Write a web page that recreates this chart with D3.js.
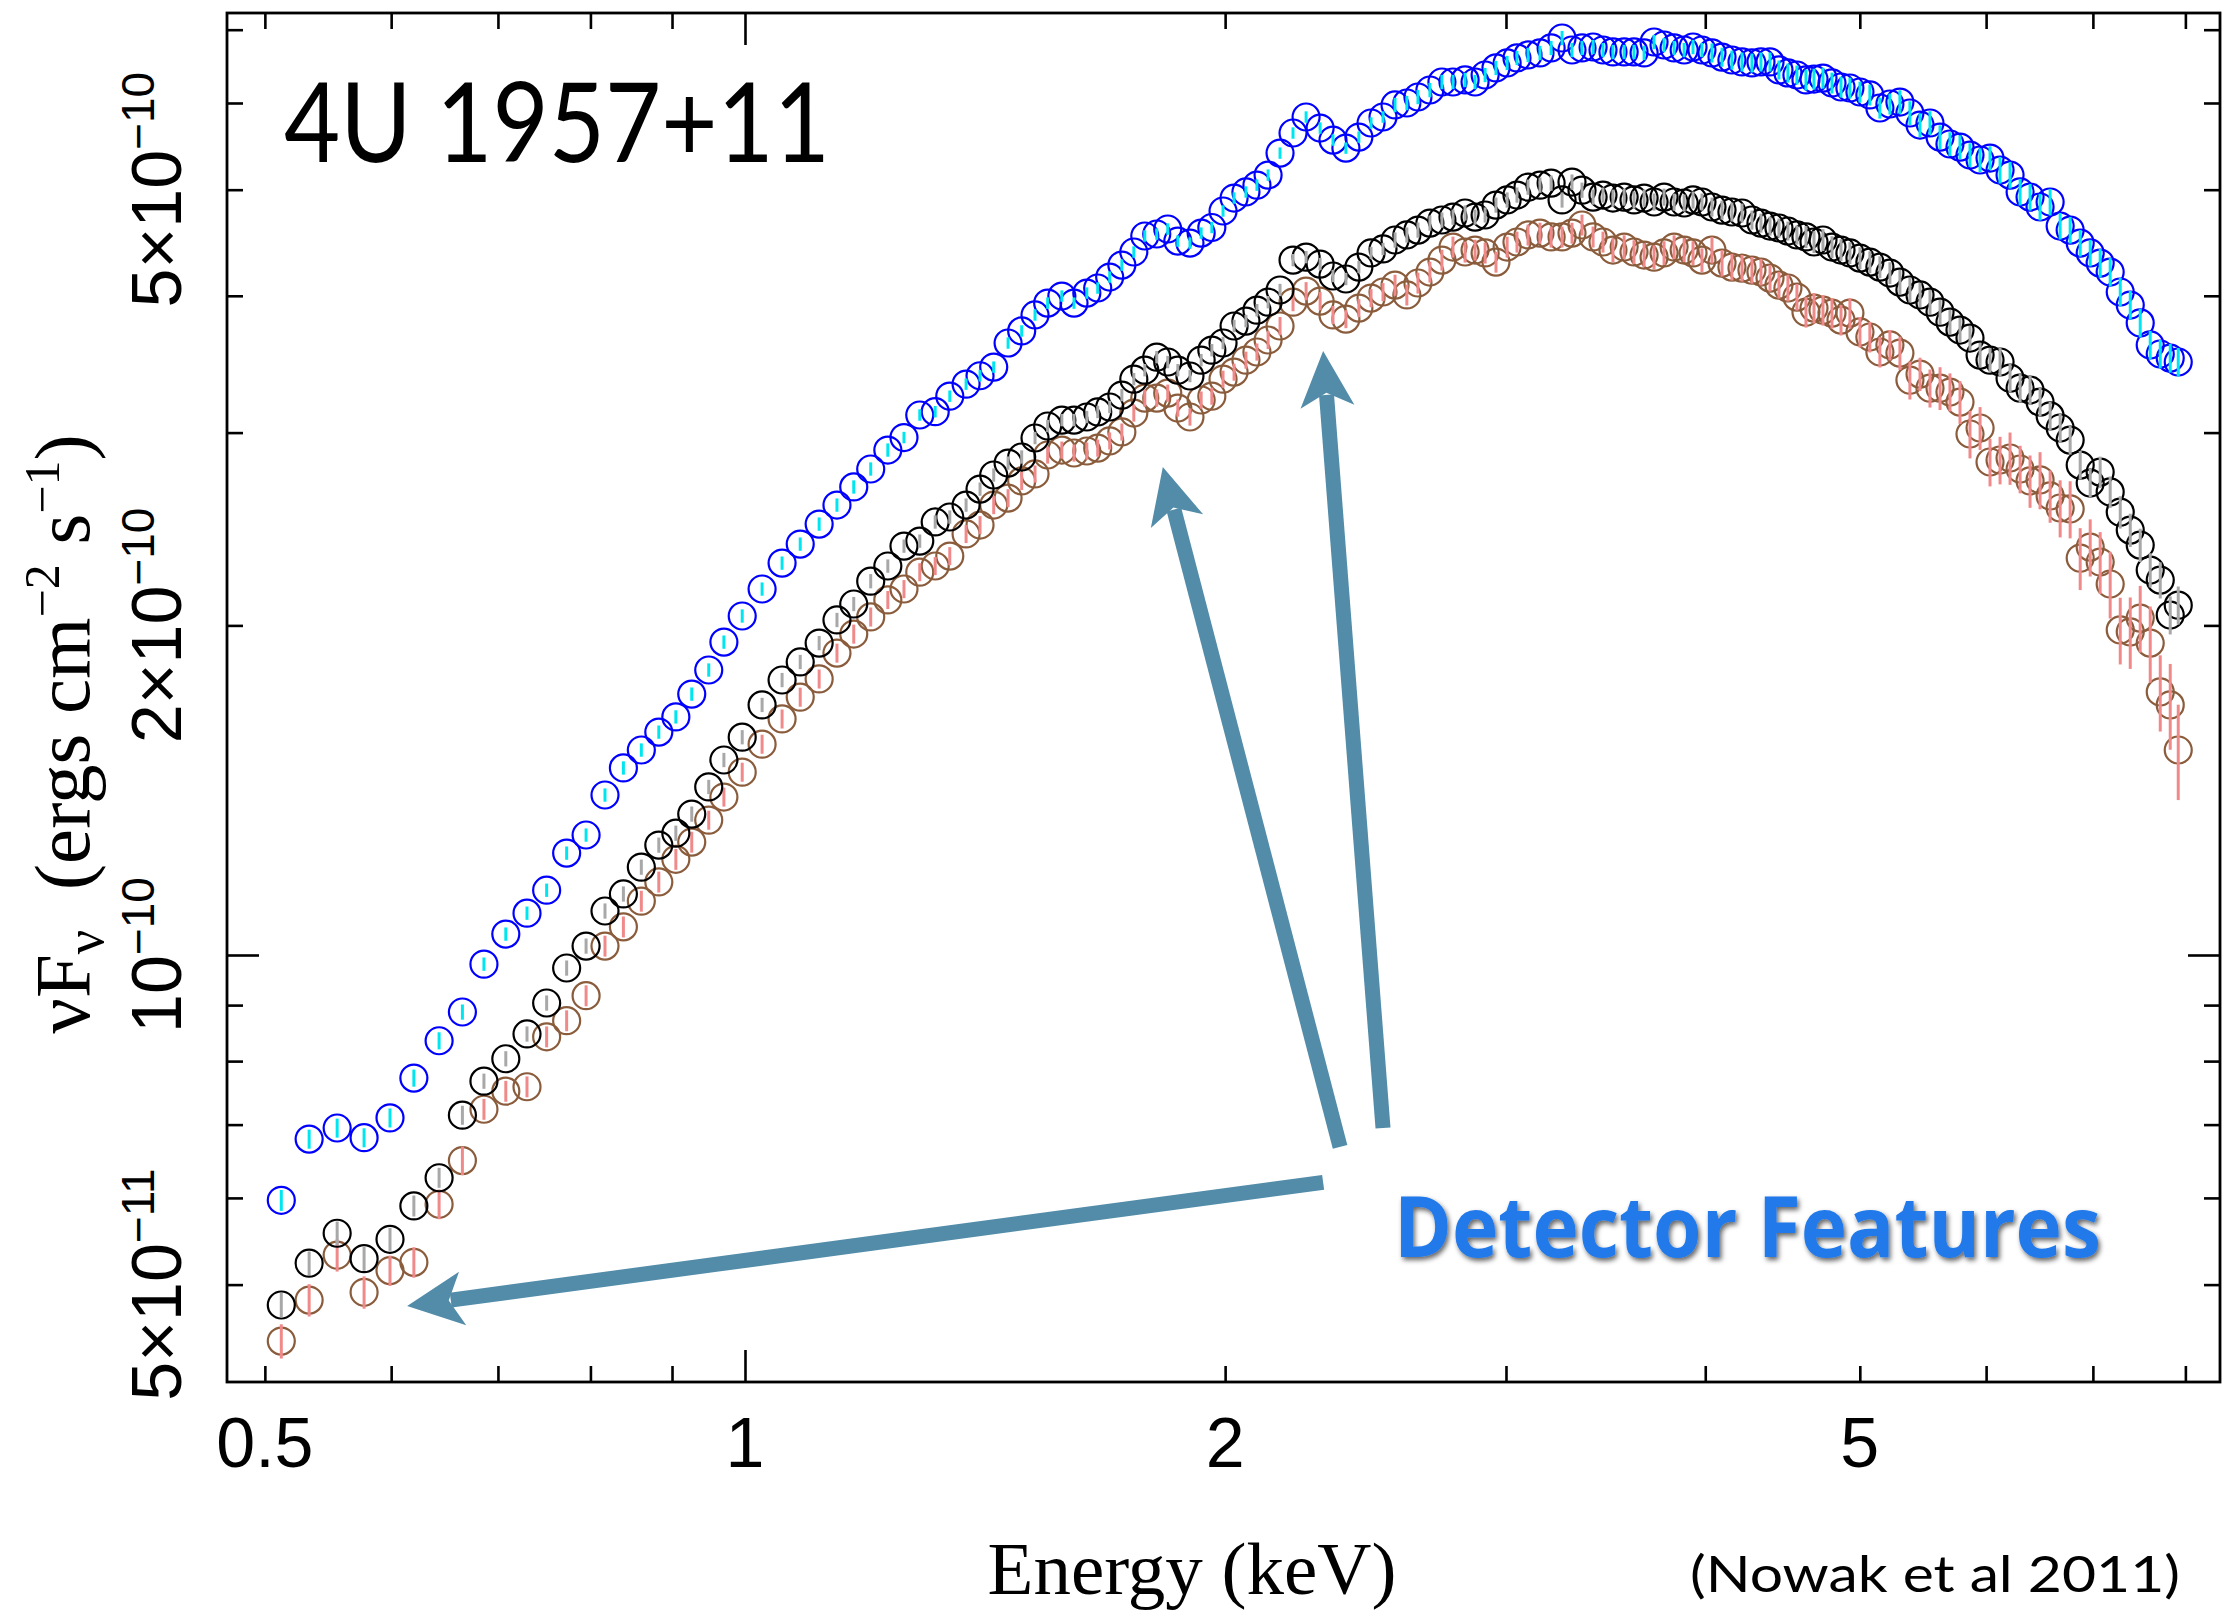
<!DOCTYPE html>
<html>
<head>
<meta charset="utf-8">
<title>4U 1957+11</title>
<script src="https://cdn.jsdelivr.net/npm/d3@7"></script>
<style>
	html, body { margin: 0; padding: 0; background: #fff; }
	svg { display: block; }
</style>
</head>
<body>
<div id="chart"></div>
<script>
(function (){
	"use strict";

// energy grid (keV), same bins for the three spectra
var energy = [
	0.512, 0.533, 0.555, 0.577, 0.599, 0.620, 0.643, 0.665, 0.686, 0.708,
	0.730, 0.751, 0.773, 0.795, 0.817, 0.839, 0.861, 0.883, 0.905, 0.926,
	0.949, 0.970, 0.996, 1.025, 1.055, 1.083, 1.113, 1.142, 1.170, 1.199,
	1.229, 1.258, 1.287, 1.316, 1.344, 1.376, 1.404, 1.432, 1.462, 1.491,
	1.520, 1.548, 1.580, 1.608, 1.638, 1.664, 1.693, 1.723, 1.753, 1.781,
	1.812, 1.841, 1.868, 1.901, 1.932, 1.962, 1.994, 2.026, 2.061, 2.094,
	2.128, 2.165, 2.206, 2.248, 2.294, 2.337, 2.381, 2.426, 2.469, 2.512,
	2.556, 2.600, 2.642, 2.688, 2.735, 2.779, 2.828, 2.869, 2.911, 2.957,
	3.005, 3.048, 3.097, 3.151, 3.202, 3.253, 3.300, 3.348, 3.402, 3.451,
	3.501, 3.558, 3.609, 3.662, 3.715, 3.769, 3.824, 3.880, 3.930, 3.981,
	4.039, 4.098, 4.157, 4.218, 4.279, 4.335, 4.392, 4.449, 4.507, 4.566,
	4.626, 4.680, 4.741, 4.803, 4.866, 4.929, 5.001, 5.073, 5.147, 5.222,
	5.298, 5.375, 5.454, 5.533, 5.614, 5.695, 5.778, 5.862, 5.948, 6.034,
	6.122, 6.211, 6.302, 6.393, 6.486, 6.581, 6.677, 6.774, 6.873, 6.973,
	7.074, 7.177, 7.282, 7.388, 7.495, 7.604, 7.715, 7.827, 7.918
];

// nuFnu, units of 1e-11 ergs cm^-2 s^-1
var fluxBlue = [
	5.97, 6.79, 6.95, 6.81, 7.10, 7.72, 8.35, 8.87, 9.81, 10.45,
	10.92, 11.46, 12.39, 12.87, 14.00, 14.82, 15.39, 15.98, 16.50, 17.31,
	18.21, 19.31, 20.40, 21.59, 22.80, 23.73, 24.75, 25.76, 26.76, 27.79,
	28.92, 29.69, 31.13, 31.35, 32.39, 33.22, 33.81, 34.43, 36.22, 37.15,
	38.42, 39.39, 39.98, 39.39, 40.23, 40.66, 41.61, 42.67, 43.86, 45.36,
	45.55, 46.03, 44.88, 44.69, 45.64, 46.18, 47.81, 49.13, 49.76, 50.48,
	51.56, 54.00, 56.33, 58.26, 56.92, 55.50, 54.57, 55.85, 57.53, 58.26,
	59.75, 60.00, 60.76, 61.66, 62.71, 62.71, 62.98, 62.71, 63.64, 64.59,
	65.27, 65.96, 66.38, 66.66, 67.36, 68.79, 67.07, 67.36, 67.50, 67.07,
	66.80, 66.80, 66.80, 66.66, 68.21, 67.78, 67.36, 67.07, 67.50, 67.07,
	66.66, 66.08, 65.68, 65.41, 65.27, 65.41, 65.41, 64.32, 63.91, 63.64,
	62.98, 63.10, 63.23, 62.58, 62.05, 61.92, 61.40, 61.02, 59.37, 59.87,
	60.12, 58.75, 57.28, 57.53, 55.85, 55.04, 54.69, 53.78, 53.22, 53.44,
	52.11, 51.56, 49.76, 49.23, 48.21, 48.72, 46.32, 45.93, 44.69, 43.77,
	42.85, 42.05, 40.32, 39.23, 37.78, 36.07, 35.39, 35.09, 34.80
];
var fluxBlack = [
	4.79, 5.23, 5.57, 5.28, 5.50, 5.90, 6.26, 7.14, 7.67, 8.04,
	8.47, 9.04, 9.73, 10.19, 10.97, 11.37, 12.03, 12.60, 12.92, 13.45,
	14.24, 15.07, 15.81, 16.92, 17.83, 18.52, 19.27, 20.23, 20.92, 21.95,
	22.66, 23.63, 23.88, 24.86, 25.12, 25.76, 26.64, 27.44, 28.14, 28.50,
	29.66, 30.42, 30.80, 30.80, 31.00, 31.33, 31.66, 32.46, 33.57, 34.21,
	35.16, 34.80, 34.21, 33.79, 34.94, 35.68, 36.22, 37.54, 37.93, 38.81,
	39.47, 40.49, 43.12, 43.39, 42.76, 41.70, 41.44, 42.49, 43.77, 44.14,
	44.98, 45.46, 45.93, 46.61, 46.91, 47.20, 47.61, 47.20, 47.41, 48.41,
	48.93, 49.44, 50.27, 50.48, 50.70, 48.93, 50.81, 49.95, 49.23, 49.44,
	49.13, 49.23, 48.93, 49.13, 48.72, 49.23, 48.72, 48.62, 48.93, 48.72,
	48.21, 47.90, 47.71, 47.61, 46.91, 46.61, 46.32, 46.13, 45.84, 45.46,
	45.27, 44.79, 44.98, 44.32, 44.04, 43.77, 43.30, 42.94, 42.49, 41.96,
	41.17, 40.49, 40.07, 39.47, 38.65, 37.85, 37.22, 36.60, 35.31, 34.94,
	34.80, 33.64, 32.94, 32.81, 31.99, 31.07, 30.29, 29.53, 28.02, 26.98,
	27.61, 26.48, 25.38, 24.44, 23.68, 22.47, 22.00, 20.44, 20.87
];
var fluxBrown = [
	4.44, 4.84, 5.32, 4.92, 5.15, 5.24, 5.92, 6.49, 7.23, 7.51,
	7.58, 8.42, 8.71, 9.18, 10.19, 10.61, 11.20, 11.66, 12.23, 12.68,
	13.28, 13.94, 14.69, 15.58, 16.43, 17.20, 17.87, 18.87, 19.64, 20.36,
	21.10, 21.59, 22.37, 22.66, 23.14, 24.24, 24.70, 25.76, 26.14, 27.10,
	27.50, 28.62, 28.92, 28.74, 28.86, 29.04, 29.48, 30.04, 31.26, 32.26,
	32.26, 32.60, 31.59, 31.00, 32.13, 32.39, 33.57, 34.07, 34.94, 35.54,
	36.45, 37.54, 39.47, 40.40, 39.56, 38.42, 38.09, 38.98, 39.81, 40.32,
	40.91, 40.07, 41.09, 42.05, 43.12, 44.32, 43.86, 44.04, 43.77, 42.94,
	44.32, 44.79, 45.46, 45.64, 45.27, 45.27, 45.64, 46.42, 45.27, 44.79,
	44.04, 44.32, 43.86, 43.58, 43.39, 43.77, 44.32, 44.04, 43.77, 43.12,
	44.04, 42.85, 42.49, 42.40, 42.22, 42.05, 41.52, 40.91, 40.66, 39.89,
	38.65, 38.98, 38.81, 38.57, 38.01, 38.57, 37.07, 36.68, 35.54, 36.07,
	35.46, 33.50, 33.93, 32.94, 32.94, 32.67, 31.99, 29.91, 30.29, 28.20,
	28.32, 28.44, 27.79, 27.10, 27.16, 26.26, 25.60, 25.55, 23.04, 23.58,
	22.85, 21.82, 19.81, 19.73, 20.31, 19.27, 17.39, 16.92, 15.39
];

// 1 sigma errors, percent of flux
var errBlue = [
	2.2, 2, 2, 2, 2, 1.8, 1.8, 1.6, 1.4, 1.4,
	1.4, 1.4, 1.4, 1.4, 1.4, 1.4, 1.4, 1.4, 1.4, 1.4,
	1.4, 1.4, 1.4, 1.4, 1.4, 1.4, 1.4, 1.4, 1.4, 1.4,
	1.4, 1.2, 1.2, 1.2, 1.2, 1.2, 1.2, 1.2, 1.2, 1.2,
	1.2, 1.2, 1.2, 1.2, 1.2, 1.2, 1.2, 1.2, 1.2, 1.2,
	1.2, 1.2, 1.2, 1.2, 1.2, 1.2, 1.2, 1.2, 1.2, 1.2,
	1.2, 1.2, 1.2, 1.2, 1.2, 1.2, 1.2, 1.2, 1.2, 1.2,
	1.5, 1.5, 1.5, 1.5, 1.5, 1.5, 1.5, 1.5, 1.5, 1.5,
	1.5, 1.5, 1.5, 1.5, 1.5, 1.5, 1.5, 1.5, 1.5, 1.5,
	1.5, 1.5, 1.5, 1.5, 1.5, 1.5, 1.5, 1.5, 1.5, 1.5,
	2, 2, 2, 2, 2, 2, 2, 2, 2, 2,
	2.2, 2.2, 2.2, 2.2, 2.2, 2.2, 2.2, 2.2, 2.2, 2.2,
	2.5, 2.5, 2.5, 2.5, 2.5, 2.5, 2.5, 2.5, 2.5, 2.5,
	2.8, 2.8, 2.8, 2.8, 2.8, 2.8, 2.8, 2.8, 2.8, 2.8,
	3, 3, 3, 3, 3, 3, 3, 3, 3
];
var errBlack = [
	2.6, 2.5, 2.5, 2.5, 2.4, 2.2, 2.1, 2, 1.6, 1.6,
	1.6, 1.6, 1.6, 1.6, 1.6, 1.6, 1.6, 1.6, 1.6, 1.6,
	1.5, 1.5, 1.5, 1.5, 1.5, 1.5, 1.5, 1.5, 1.5, 1.5,
	1.4, 1.4, 1.4, 1.4, 1.4, 1.4, 1.4, 1.4, 1.4, 1.4,
	1.3, 1.3, 1.3, 1.3, 1.3, 1.3, 1.3, 1.3, 1.3, 1.3,
	1.3, 1.3, 1.3, 1.3, 1.3, 1.3, 1.3, 1.3, 1.3, 1.3,
	1.3, 1.3, 1.3, 1.3, 1.3, 1.3, 1.3, 1.3, 1.3, 1.3,
	1.6, 1.6, 1.6, 1.6, 1.6, 1.6, 1.6, 1.6, 1.6, 1.6,
	1.6, 1.6, 1.6, 1.6, 1.6, 1.6, 1.6, 1.6, 1.6, 1.6,
	1.8, 1.8, 1.8, 1.8, 1.8, 1.8, 1.8, 1.8, 1.8, 1.8,
	2, 2, 2, 2, 2, 2, 2, 2, 2, 2,
	2.3, 2.3, 2.3, 2.3, 2.3, 2.3, 2.3, 2.3, 2.3, 2.3,
	2.6, 2.6, 2.6, 2.6, 2.6, 2.6, 2.6, 2.6, 2.6, 2.6,
	3, 3, 3, 3, 3, 3, 3, 3, 3, 3,
	3.3, 3.3, 3.4, 3.5, 3.5, 3.6, 3.8, 4, 4
];
var errBrown = [
	3.6, 3.4, 3.4, 3.4, 3.2, 3.2, 3.1, 3, 2.2, 2.2,
	2.2, 2.2, 2.2, 2.2, 2.2, 2.2, 2.2, 2.2, 2.2, 2.2,
	2, 2, 2, 2, 2, 2, 2, 2, 2, 2,
	1.9, 1.9, 1.9, 1.9, 1.9, 1.9, 1.9, 1.9, 1.9, 1.9,
	1.8, 1.8, 1.8, 1.8, 1.8, 1.8, 1.8, 1.8, 1.8, 1.8,
	1.8, 1.8, 1.8, 1.8, 1.8, 1.8, 1.8, 1.8, 1.8, 1.8,
	1.9, 1.9, 1.9, 1.9, 1.9, 1.9, 1.9, 1.9, 1.9, 1.9,
	2.2, 2.2, 2.2, 2.2, 2.2, 2.2, 2.2, 2.2, 2.2, 2.2,
	2.2, 2.2, 2.2, 2.2, 2.2, 2.2, 2.2, 2.2, 2.2, 2.2,
	2.5, 2.5, 2.5, 2.5, 2.5, 2.5, 2.5, 2.5, 2.5, 2.5,
	2.8, 2.8, 2.8, 2.8, 2.8, 2.8, 2.8, 2.8, 2.8, 2.8,
	3.2, 3.2, 3.2, 3.2, 3.2, 3.2, 3.2, 3.2, 3.2, 3.2,
	3.5, 4, 3.5, 4, 4.5, 4, 4.5, 5, 4.5, 5,
	5, 5.5, 5, 5.5, 6, 5.5, 6, 6, 6.5, 6,
	6.5, 7, 7, 7.5, 7, 8, 8, 9, 10
];

// ticks and labels
var xMinorTicks = [0.5, 0.6, 0.7, 0.8, 0.9, 2, 3, 4, 5, 6, 7, 8],
	xMajorTicks = [1],
	xLabelValues = [0.5, 1, 2, 5];
var yMinorTicks = [5, 6, 7, 8, 9, 20, 30, 40, 50, 60, 70],
	yMajorTicks = [10],
	yLabelValues = [5, 10, 20, 50],
	yLabelMant = ["5×10", "10", "2×10", "5×10"],
	yLabelExp = ["−11", "−10", "−10", "−10"];

// annotation arrows, [energy, flux] from -> to
var arrowFrom = [[2.304, 6.20], [2.361, 6.68], [2.512, 6.95]],
	arrowTo = [[0.614, 4.78], [1.828, 27.91], [2.304, 35.62]];

var width = 2225,
	height = 1617,
	plotLeft = 227,
	plotRight = 2220,
	plotTop = 13,
	plotBottom = 1382;

var x = d3.scaleLog().domain([0.4734, 8.41]).range([plotLeft, plotRight]);
var y = d3.scaleLog().domain([4.074, 72.5]).range([plotBottom, plotTop]);

var svg = d3.select("#chart").append("svg")
	.attr("width", width)
	.attr("height", height)
	.style("background", "#fff");

var shadow = svg.append("defs").append("filter")
	.attr("id", "textShadow")
	.attr("x", "-5%").attr("y", "-30%")
	.attr("width", "112%").attr("height", "170%");
shadow.append("feDropShadow")
	.attr("dx", 2).attr("dy", 3)
	.attr("stdDeviation", 2.5)
	.attr("flood-color", "#000")
	.attr("flood-opacity", 0.6);

//TICKS

function ticks(axis, tx, ty, vals, size){
	svg.append("g")
		.attr("transform", "translate(" + tx + "," + ty + ")")
		.call(axis.tickValues(vals).tickSizeInner(-size).tickSizeOuter(0).tickFormat(""))
		.call(function(g){ g.select(".domain").remove(); })
		.selectAll(".tick line")
			.attr("stroke", "#000")
			.attr("stroke-width", 2.6);
}
ticks(d3.axisBottom(x), 0, plotBottom, xMinorTicks, 16);
ticks(d3.axisBottom(x), 0, plotBottom, xMajorTicks, 32);
ticks(d3.axisTop(x), 0, plotTop, xMinorTicks, 16);
ticks(d3.axisTop(x), 0, plotTop, xMajorTicks, 32);
ticks(d3.axisLeft(y), plotLeft, 0, yMinorTicks, 16);
ticks(d3.axisLeft(y), plotLeft, 0, yMajorTicks, 32);
ticks(d3.axisRight(y), plotRight, 0, yMinorTicks, 16);
ticks(d3.axisRight(y), plotRight, 0, yMajorTicks, 32);

svg.append("rect")
	.attr("x", plotLeft)
	.attr("y", plotTop)
	.attr("width", plotRight - plotLeft)
	.attr("height", plotBottom - plotTop)
	.attr("fill", "none")
	.attr("stroke", "#000")
	.attr("stroke-width", 2.8);

svg.selectAll(".xlab").data(xLabelValues)
	.enter().append("text")
		.attr("class", "xlab")
		.attr("x", function(d){ return x(d); })
		.attr("y", 1467)
		.attr("text-anchor", "middle")
		.style("font-family", "'Liberation Sans', Arial, sans-serif")
		.style("font-size", "70px")
		.text(function(d){ return d; });

var ylab = svg.selectAll(".ylab").data(yLabelValues)
	.enter().append("text")
		.attr("class", "ylab")
		.attr("transform", function(d){ return "translate(181," + y(d) + ") rotate(-90)"; })
		.attr("text-anchor", "middle")
		.style("font-family", "'Liberation Sans', Arial, sans-serif")
		.style("font-size", "70px");
ylab.append("tspan").text(function(d, i){ return yLabelMant[i]; });
ylab.append("tspan")
	.attr("dy", -27)
	.style("font-size", "46px")
	.text(function(d, i){ return yLabelExp[i]; });

//SPECTRA

var series = [
	{flux: fluxBrown, err: errBrown, ring: "#8a5c3c", bar: "#f08a8a"},
	{flux: fluxBlack, err: errBlack, ring: "#000000", bar: "#a8a8a8"},
	{flux: fluxBlue, err: errBlue, ring: "#0000ff", bar: "#00e6f0"}
];

series.forEach(function(s){
	var rows = energy.map(function(e, i){
		return {e: e, f: s.flux[i], df: s.flux[i] * s.err[i] / 100};
	});
	var g = svg.append("g");
	g.selectAll("circle").data(rows)
		.enter().append("circle")
			.attr("cx", function(d){ return x(d.e); })
			.attr("cy", function(d){ return y(d.f); })
			.attr("r", 13.5)
			.attr("fill", "none")
			.attr("stroke", s.ring)
			.attr("stroke-width", 2.2);
	g.selectAll("line").data(rows)
		.enter().append("line")
			.attr("x1", function(d){ return x(d.e); })
			.attr("x2", function(d){ return x(d.e); })
			.attr("y1", function(d){ return y(d.f - d.df); })
			.attr("y2", function(d){ return y(d.f + d.df); })
			.attr("stroke", s.bar)
			.attr("stroke-width", 3);
});

//ANNOTATIONS

var arrowColor = "#528ca9";
arrowFrom.forEach(function(p, i){
	var sx = x(p[0]), sy = y(p[1]),
		tx = x(arrowTo[i][0]), ty = y(arrowTo[i][1]);
	var len = Math.sqrt((tx - sx) * (tx - sx) + (ty - sy) * (ty - sy)),
		ux = (tx - sx) / len, uy = (ty - sy) / len,
		nx = -uy, ny = ux;
	var headL = 56, headW = 27, notch = 42;
	svg.append("line")
		.attr("x1", sx).attr("y1", sy)
		.attr("x2", tx - ux * (notch + 2)).attr("y2", ty - uy * (notch + 2))
		.attr("stroke", arrowColor)
		.attr("stroke-width", 15);
	svg.append("path")
		.attr("d", "M" + tx + "," + ty +
			"L" + (tx - ux * headL + nx * headW) + "," + (ty - uy * headL + ny * headW) +
			"L" + (tx - ux * notch) + "," + (ty - uy * notch) +
			"L" + (tx - ux * headL - nx * headW) + "," + (ty - uy * headL - ny * headW) + "Z")
		.attr("fill", arrowColor);
});

svg.append("text")
	.attr("x", x(2.552))
	.attr("y", y(5.30))
	.attr("textLength", 707)
	.attr("lengthAdjust", "spacingAndGlyphs")
	.attr("filter", "url(#textShadow)")
	.style("font-family", "'Open Sans', sans-serif")
	.style("font-weight", "700")
	.style("font-size", "84px")
	.style("fill", "#2079ea")
	.text("Detector Features");

//TITLES

svg.append("text")
	.attr("x", 284)
	.attr("y", 162)
	.attr("textLength", 546)
	.attr("lengthAdjust", "spacingAndGlyphs")
	.style("font-family", "Lato, sans-serif")
	.style("font-size", "110px")
	.text("4U 1957+11");

svg.append("text")
	.attr("x", 1192)
	.attr("y", 1594)
	.attr("text-anchor", "middle")
	.style("font-family", "'Liberation Serif', 'Times New Roman', serif")
	.style("font-size", "75px")
	.text("Energy (keV)");

var ytitle = svg.append("text")
	.attr("transform", "translate(89,734) rotate(-90)")
	.attr("text-anchor", "middle")
	.style("font-family", "'Liberation Serif', 'Times New Roman', serif")
	.style("font-size", "79px");
ytitle.append("tspan").text("νF");
ytitle.append("tspan").attr("dy", 14).style("font-size", "54px").text("ν");
ytitle.append("tspan").attr("dy", -14).text("\u00a0\u00a0(ergs cm");
ytitle.append("tspan").attr("dy", -30).style("font-size", "50px").text("−2");
ytitle.append("tspan").attr("dy", 30).text(" s");
ytitle.append("tspan").attr("dy", -30).style("font-size", "50px").text("−1");
ytitle.append("tspan").attr("dy", 30).text(")");

// source credit, kept inside the page
svg.append("text")
	.attr("x", 1690)
	.attr("y", 1592)
	.attr("textLength", 490)
	.attr("lengthAdjust", "spacingAndGlyphs")
	.style("font-family", "Lato, sans-serif")
	.style("font-size", "50px")
	.text("(Nowak et al 2011)");

})();
</script>
</body>
</html>
